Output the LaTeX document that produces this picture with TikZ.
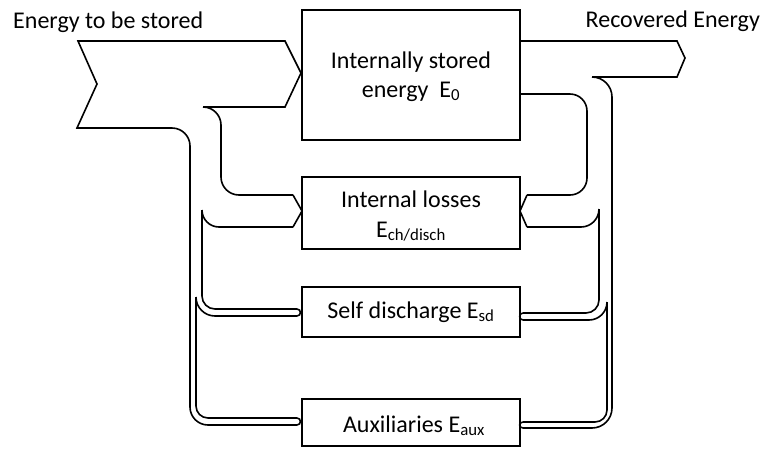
\documentclass[tikz,border=0pt]{standalone}
\usepackage{fontspec}
\setmainfont{Carlito}
\begin{document}
\begin{tikzpicture}[x=1pt,y=-1pt,
  flow/.style={line width=1.6pt, line join=miter},
  boxst/.style={draw, line width=1.6pt, minimum width=218pt, inner sep=0pt},
  lbl/.style={anchor=base, inner sep=0pt, font=\fontsize{24}{29}\selectfont}]
\useasboundingbox (0,0) rectangle (764,448);

% boxes
\node[boxst, minimum height=130pt] (mainbox) at (411,75) {};
\node[boxst, minimum height=72pt] (lossbox) at (411,213) {};
\node[boxst, minimum height=50pt] (sdbox) at (411,312) {};
\node[boxst, minimum height=47pt] (auxbox) at (411,422.5) {};

% texts
\node[lbl, anchor=base west] (tin) at (13,28) {Energy to be stored};
\node[lbl, anchor=base east] (tout) at (760,27) {Recovered Energy};
\node[lbl] (m1) at (411,68) {Internally stored};
\node[lbl] (m2) at (411,97) {energy\ \ E\textsubscript{0}};
\node[lbl] (l1) at (411,207) {Internal losses};
\node[lbl] (l2) at (411,237) {E\textsubscript{ch/disch}};
\node[lbl] (s1) at (411,318) {Self discharge E\textsubscript{sd}};
\node[lbl] (a1) at (414,432) {Auxiliaries E\textsubscript{aux}};

% ---- left side: input flow ----
\draw[flow] (203,107) -- (285,107) -- (301,73) -- (285,41) -- (78,41) -- (97,84) -- (77,128) -- (172,128);
\draw[flow, rounded corners=18pt] (172,128) -- (190,128) -- (190,425) -- (297,425);
\draw[flow, rounded corners=18pt] (203,107) -- (221,107) -- (221,195) -- (293,195);
\draw[flow] (293,195) -- (302,211) -- (293,227);
\draw[flow, rounded corners=17pt] (293,227) -- (202,227) -- (202,210);
\draw[flow, rounded corners=13pt] (202,210) -- (202,309) -- (297,309);
\draw[flow, rounded corners=19pt] (297,316) -- (196,316) -- (196,297);
\draw[flow, rounded corners=12pt] (196,297) -- (196,418) -- (297,418);
\draw[flow] (297,309) .. controls (301.5,309) and (301.5,316) .. (297,316);
\draw[flow] (297,418) .. controls (301.5,418) and (301.5,425) .. (297,425);

% ---- right side: output flow ----
\draw[flow] (520,41) -- (677,41) -- (685,58) -- (677,77) -- (592,77);
\draw[flow, rounded corners=20pt] (592,77) -- (612,77) -- (612,428) -- (523,428);
\draw[flow, rounded corners=17pt] (520,94) -- (587,94) -- (587,195) -- (527,195);
\draw[flow] (527,195) -- (520,211) -- (527,227);
\draw[flow, rounded corners=18pt] (527,227) -- (599,227) -- (599,209);
\draw[flow, rounded corners=13pt] (599,209) -- (599,313) -- (523,313);
\draw[flow, rounded corners=18pt] (523,320) -- (607,320) -- (607,302);
\draw[flow, rounded corners=12pt] (607,302) -- (607,422) -- (523,422);
\draw[flow] (523,313) .. controls (518.5,313) and (518.5,320) .. (523,320);
\draw[flow] (523,422) .. controls (518.5,422) and (518.5,428) .. (523,428);
\end{tikzpicture}
\end{document}
